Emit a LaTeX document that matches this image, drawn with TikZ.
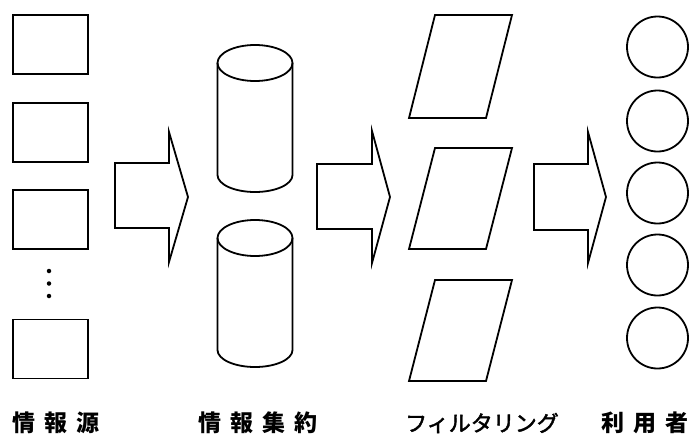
\documentclass[tikz,border=0pt]{standalone}
\usepackage{fontspec}
\newfontfamily\cjk{Noto Sans CJK JP}
\newfontfamily\cjkk[FakeBold=2]{Noto Sans CJK JP}
\tikzset{
  x=1pt, y=-1pt,
  ln/.style={draw=black, line width=1.8pt, line join=miter},
  boxnode/.style={ln, minimum width=75pt, minimum height=59pt, inner sep=0pt},
  usernode/.style={ln, circle, minimum size=61pt, inner sep=0pt},
  blockarrow/.style={ln, fill=white},
  lbl/.style={font=\cjk\bfseries\fontsize{23pt}{23pt}\selectfont, inner sep=0pt, anchor=center},
  lblk/.style={font=\cjkk\fontsize{22pt}{22pt}\selectfont, inner sep=0pt, anchor=center},
  dotnode/.style={circle, fill=black, inner sep=0pt, minimum size=4.5pt}
}
\begin{document}
\begin{tikzpicture}
\useasboundingbox (0,0) rectangle (690,437);
% sources
\node[boxnode] (s1) at (50.5,44.5) {};
\node[boxnode] (s2) at (50.5,132.5) {};
\node[boxnode] (s3) at (50.5,219.5) {};
\node[boxnode] (s4) at (50.5,349) {};
\node[dotnode] (d1) at (49,271) {};
\node[dotnode] (d2) at (49,283.5) {};
\node[dotnode] (d3) at (49,296) {};
% arrow 1
\draw[blockarrow] (115,163) -- (169,163) -- (169,132) -- (188,197) -- (169,262) -- (169,228) -- (115,228) -- cycle;
% cylinders
\foreach \t/\b in {63/175, 238/350}{
  \draw[ln] (217.5,\t) -- (217.5,\b) arc[start angle=180, end angle=360, x radius=37.5pt, y radius=17pt] -- (292.5,\t);
  \draw[ln] (255,\t) ellipse [x radius=37.5pt, y radius=18pt];
}
% arrow 2
\draw[blockarrow] (317,164) -- (372,164) -- (372,131) -- (390,197) -- (372,263) -- (372,229) -- (317,229) -- cycle;
% parallelograms
\foreach \t/\b in {15/118, 148/249, 280/381}{
  \draw[ln] (409,\b) -- (435,\t) -- (512,\t) -- (486,\b) -- cycle;
}
% arrow 3
\draw[blockarrow] (534,164) -- (588,164) -- (588,132) -- (606,197) -- (588,263) -- (588,230) -- (534,230) -- cycle;
% users
\node[usernode] (u1) at (657.5,47) {};
\node[usernode] (u2) at (657.5,121) {};
\node[usernode] (u3) at (657.5,193) {};
\node[usernode] (u4) at (657.5,265) {};
\node[usernode] (u5) at (657.5,338) {};
% labels
\node[lbl] (t1) at (56,423) {情\hspace{9pt}報\hspace{9pt}源};
\node[lbl] (t2) at (258,423) {情\hspace{9pt}報\hspace{9pt}集\hspace{9pt}約};
\node[lblk] (t3) at (482,423) {フィルタリング};
\node[lbl] (t4) at (645,423) {利\hspace{9pt}用\hspace{9pt}者};
\end{tikzpicture}
\end{document}
